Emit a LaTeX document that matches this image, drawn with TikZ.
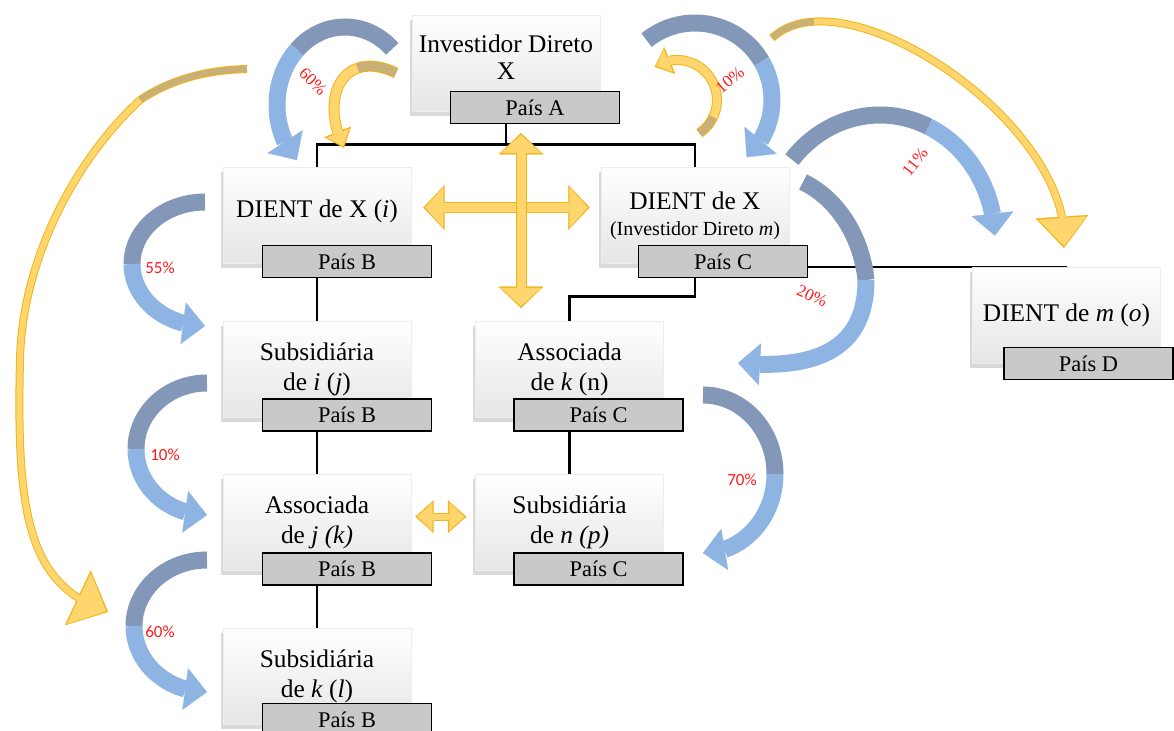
\documentclass[tikz,border=0pt]{standalone}
\usepackage{fontspec}
\setmainfont{Liberation Serif}
\newfontfamily\pctsans{Carlito}
\usetikzlibrary{positioning,shadows,arrows.meta,bending,backgrounds}

\definecolor{blueDark}{HTML}{8397B8}
\definecolor{blueLight}{HTML}{8DB4E2}
\definecolor{ylwFill}{HTML}{FFD66E}
\definecolor{ylwEdge}{HTML}{F2B41C}
\definecolor{ylwTail}{HTML}{C9B077}
\definecolor{paisGray}{HTML}{C9C9C9}
\definecolor{pctRed}{HTML}{FF1A1A}

\tikzset{
  ent/.style={minimum width=94pt, minimum height=48pt, inner sep=2pt, align=center,
    top color=white, bottom color=black!10, draw=black!7, line width=0.3pt,
    drop shadow={shadow xshift=-1.2pt, shadow yshift=-2.4pt, opacity=0.3},
    font=\fontsize{12.7}{15}\selectfont},
  pais/.style={anchor=north west, minimum width=84.5pt, minimum height=16pt, inner sep=0pt,
    fill=paisGray, draw=black, line width=0.8pt, font=\fontsize{11.2}{13}\selectfont},
  link/.style={line width=1.3pt},
  pctS/.style={text=pctRed, font=\pctsans\fontsize{8.5}{10}\selectfont},
  pctT/.style={text=pctRed, font=\fontsize{8.5}{10}\selectfont},
  bluetail/.style={draw=blueDark, line width=8.5pt},
  bluehead/.style={draw=blueLight, line width=8.5pt,
    arrows={-Triangle[width=21pt,length=11pt,line width=0.1pt]}}
}

% participacao: centro, raio x, raio y, inicio, troca de cor, fim
\newcommand{\ownarc}[6]{%
  \draw[bluetail] (#1) ++(#4:#2 and #3) arc[start angle=#4, end angle=#5, x radius=#2, y radius=#3];
  \draw[bluehead] (#1) ++(#5:#2 and #3) arc[start angle=#5, end angle=#6, x radius=#2, y radius=#3];}

% seta amarela: faixa, largura da ponta, comprimento da ponta, caminho
\newcommand{\yarrow}[4]{%
  \pgfmathsetmacro\ywB{#1+1}\pgfmathsetmacro\yhB{#2+2.4}\pgfmathsetmacro\ylB{#3+1.7}%
  \draw[draw=ylwEdge, line width=\ywB pt, arrows={-Triangle[width=\yhB pt,length=\ylB pt,line width=0.1pt]}] #4;
  \draw[draw=ylwFill, line width=#1pt, shorten >=1pt, arrows={-Triangle[width=#2pt,length=#3pt,line width=0.1pt]}] #4;}
% cauda escura da seta amarela
\newcommand{\ytail}[2]{%
  \pgfmathsetmacro\ywB{#1+1}%
  \draw[draw=ylwEdge, line width=\ywB pt] #2;
  \draw[draw=ylwTail, line width=#1pt] #2;}
% seta amarela dupla
\newcommand{\ydouble}[4]{%
  \pgfmathsetmacro\ywB{#1+1}\pgfmathsetmacro\yhB{#2+2.4}\pgfmathsetmacro\ylB{#3+1.7}%
  \draw[draw=ylwEdge, line width=\ywB pt, arrows={Triangle[width=\yhB pt,length=\ylB pt,line width=0.1pt]-Triangle[width=\yhB pt,length=\ylB pt,line width=0.1pt]}] #4;
  \draw[draw=ylwFill, line width=#1pt, shorten >=1pt, shorten <=1pt, arrows={Triangle[width=#2pt,length=#3pt,line width=0.1pt]-Triangle[width=#2pt,length=#3pt,line width=0.1pt]}] #4;}

\begin{document}
\begin{tikzpicture}[x=0.5pt, y=-0.5pt, node distance=28.5pt]
\useasboundingbox (0,0) rectangle (1174,731);
\clip (0,0) rectangle (1174,731);

% entidades
\node[ent, text depth=6.5pt] (inv) at (506,63.5) {Investidor Direto\\[-1.5pt]X};
\node[ent, text depth=7pt] (dxi) at (317,215.5) {DIENT de X (\textit{i})};
\node[ent, below=of dxi] (sij) {Subsidiária\\de \textit{i} (\textit{j})};
\node[ent, below=of sij] (ajk) {Associada\\de \textit{j (k)}};
\node[ent, below=of ajk] (skl) {Subsidiária\\de \textit{k} (\textit{l})};
\node[ent] (dxm) at (695,215.5) {DIENT de X\\[-2pt]{\fontsize{10}{12}\selectfont(Investidor Direto \textit{m})}};
\node[ent, right=32pt of sij] (akn) {Associada\\de \textit{k} (n)};
\node[ent, below=of akn] (snp) {Subsidiária\\de \textit{n (p)}};
\node[ent] (dmo) at (1066.5,315.5) {DIENT de \textit{m} (\textit{o})};

% paises
\node[pais] (pA) at ([shift={(38,-21)}]inv.south west) {País A};
\node[pais] (pBi) at ([shift={(39,-19)}]dxi.south west) {País B};
\node[pais] (pBj) at ([shift={(39,-19)}]sij.south west) {País B};
\node[pais] (pBk) at ([shift={(39,-19)}]ajk.south west) {País B};
\node[pais] (pBl) at ([shift={(39,-22)}]skl.south west) {País B};
\node[pais] (pCm) at ([shift={(37,-19)}]dxm.south west) {País C};
\node[pais] (pCn) at ([shift={(38,-19)}]akn.south west) {País C};
\node[pais] (pCp) at ([shift={(38,-19)}]snp.south west) {País C};
\node[pais] (pD) at ([shift={(31,-17)}]dmo.south west) {País D};

% ligacoes
\begin{scope}[on background layer]
  \draw[link] (inv.south) -- ++(0,33) -| (dxi.north);
  \draw[link] (inv.south) -- ++(0,33) -| (dxm.north);
  \draw[link] (dxi) -- (sij);
  \draw[link] (sij) -- (ajk);
  \draw[link] (ajk) -- (skl);
  \draw[link] (dxm.south) -- ++(0,33) -| (akn.north);
  \draw[link] (akn) -- (snp);
  \draw[link] (pCm.east |- dmo.north) -- (dmo.north);
\end{scope}

% setas amarelas
\ytail{3}{(247,69) .. controls (205,70) and (170,80) .. (140,100)}
\yarrow{3}{28}{15}{(140,100) .. controls (75,160) and (22,260) .. (20,360) .. controls (16,520) and (30,585) .. (108,612)}
\ytail{3}{(772,38) .. controls (783,27.8) and (797.4,22.6) .. (814.1,21.6)}
\yarrow{3}{24}{14}{(814.1,21.6) .. controls (908.6,15.8) and (1073.4,143.5) .. (1064,248)}
\ytail{4.5}{(396,73) .. controls (380.7,65.5) and (367.6,64.5) .. (357.4,68.2)}
\yarrow{4.5}{12}{7}{(357.4,68.2) .. controls (333.6,76.7) and (325.8,110.9) .. (344,148)}
\ytail{4}{(677,100) ++(56:40) arc[start angle=56, end angle=25, radius=40]}
\yarrow{4}{12}{6.5}{(677,100) ++(25:40) arc[start angle=25, end angle=-124, radius=40]}
\ydouble{4.5}{20}{9}{([shift={(12,-8)}]dxi.east) -- ([shift={(-11,-8)}]dxm.west)}
\ydouble{4.5}{20}{9}{(521,133) -- (521,308)}
\ydouble{3}{14}{7.5}{([shift={(4,-6)}]ajk.east) -- ([shift={(-9,-6)}]snp.west)}

% setas azuis
\ownarc{345,105}{68}{78}{-46}{-135}{-225}
\ownarc{695,100}{77}{77}{-129}{-30}{48}
\ownarc{880,240}{115}{125}{-140}{-65}{-2}
\ownarc{205,264}{73}{62}{-90}{-180}{-270}
\ownarc{207,449}{71}{66}{-90}{-180}{-270}
\ownarc{207,626}{73}{66}{-90}{-180}{-270}
\ownarc{703,474}{72}{79}{-90}{0}{90}
\draw[bluetail] (803,182) .. controls (840,200) and (862,240) .. (866,280);
\draw[bluehead] (866,280) .. controls (866,335) and (835,372) .. (738,363);

% percentagens
\node[pctT, rotate=-45] (l60a) at (313,82) {60\%};
\node[pctT, rotate=40] (l10a) at (730,80) {10\%};
\node[pctT, rotate=52] (l11) at (915,162) {11\%};
\node[pctT, rotate=-24] (l20) at (812,296) {20\%};
\node[pctS] (l55) at (160,268) {55\%};
\node[pctS] (l10b) at (165,455) {10\%};
\node[pctS] (l60b) at (160,632) {60\%};
\node[pctS] (l70) at (742,480) {70\%};
\end{tikzpicture}
\end{document}
